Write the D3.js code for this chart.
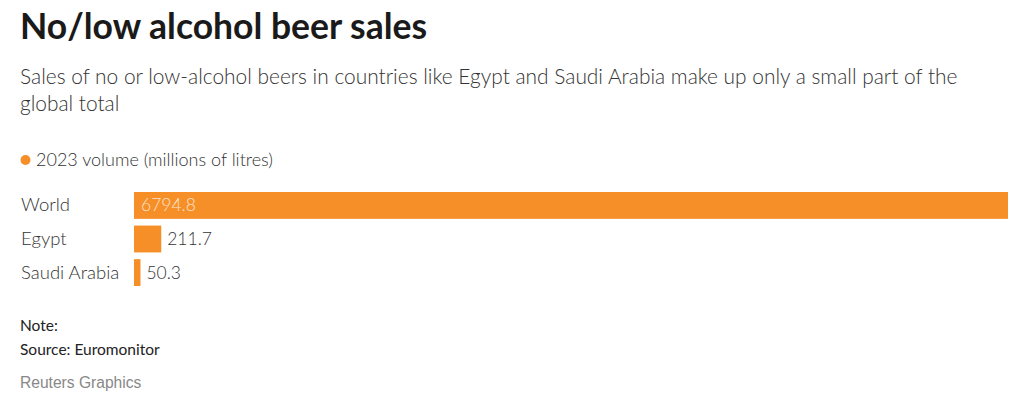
<!DOCTYPE html>
<html><head><meta charset="utf-8">
<script src="https://cdn.jsdelivr.net/npm/d3@7"></script>
<style>
body{margin:0;background:#fff;}
svg{display:block;}
</style></head>
<body>
<svg id="c" width="1029" height="402"></svg>
<script>
const categories = ["World", "Egypt", "Saudi Arabia"];
const values = [6794.8, 211.7, 50.3];
const valueLabels = ["6794.8", "211.7", "50.3"];
const seriesName = "2023 volume (millions of litres)";

const svg = d3.select("#c");
const orange = "#F68F28";
const font = "Lato, 'Source Sans Pro', sans-serif";

svg.append("text").attr("x", 20).attr("y", 39)
  .attr("font-family", font).attr("font-weight", 700).attr("font-size", 35.5)
  .attr("fill", "#1a1a1a").text("No/low alcohol beer sales");

const sub = ["Sales of no or low-alcohol beers in countries like Egypt and Saudi Arabia make up only a small part of the", "global total"];
sub.forEach((s, i) => svg.append("text").attr("x", 20).attr("y", 84 + i * 27)
  .attr("font-family", font).attr("font-weight", 300).attr("font-size", 20.9)
  .attr("fill", "#333").text(s));

svg.append("circle").attr("cx", 25.5).attr("cy", 160).attr("r", 5).attr("fill", orange);
svg.append("text").attr("x", 36).attr("y", 166)
  .attr("font-family", font).attr("font-weight", 300).attr("font-size", 18)
  .attr("fill", "#333").text(seriesName);

const x = d3.scaleLinear().domain([0, d3.max(values)]).range([134, 1008]);
const y = d3.scaleBand().domain(categories).range([192, 286]).paddingInner(0.2).paddingOuter(0.0);

const g = svg.append("g");
g.selectAll("rect").data(categories).join("rect")
  .attr("x", x(0)).attr("y", d => y(d))
  .attr("width", (d, i) => x(values[i]) - x(0))
  .attr("height", y.bandwidth()).attr("fill", orange);

g.selectAll(".cat").data(categories).join("text").attr("class", "cat")
  .attr("x", 21).attr("y", d => y(d) + y.bandwidth() / 2 + 6)
  .attr("font-family", font).attr("font-weight", 300).attr("font-size", 18.5)
  .attr("fill", "#333").text(d => d);

g.selectAll(".val").data(categories).join("text").attr("class", "val")
  .attr("x", (d, i) => i === 0 ? x(0) + 7 : x(values[i]) + 6)
  .attr("y", d => y(d) + y.bandwidth() / 2 + 6)
  .attr("font-family", font).attr("font-weight", 300).attr("font-size", 17.5)
  .attr("fill", (d, i) => i === 0 ? "#fde3c8" : "#333")
  .text((d, i) => valueLabels[i]);

svg.append("text").attr("x", 20).attr("y", 331)
  .attr("font-family", font).attr("font-weight", 400).attr("font-size", 15.5)
  .attr("fill", "#222").text("Note:");
svg.append("text").attr("x", 20).attr("y", 355)
  .attr("font-family", font).attr("font-weight", 400).attr("font-size", 15.5)
  .attr("fill", "#222").text("Source: Euromonitor");
svg.append("text").attr("x", 20).attr("y", 388)
  .attr("font-family", "Arial, 'Liberation Sans', sans-serif").attr("font-size", 15.6)
  .attr("fill", "#888").text("Reuters Graphics");
</script>
</body></html>
